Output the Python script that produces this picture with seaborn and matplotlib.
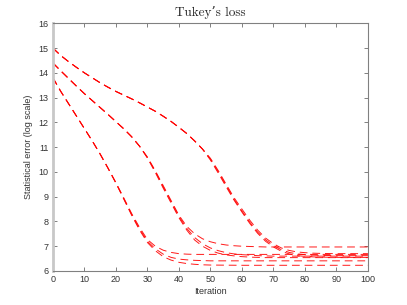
import pandas as pd
import matplotlib.pyplot as plt
import seaborn as sns

# ── data ─────────────────────────────────────────────────────
# each group of runs has its own iteration grid (dense where curves bend)
iters_a = [0, 2.5, 5, 7.5, 10, 12.5, 15, 17.5, 20, 22.5, 25, 27.5, 30, 32.5, 35, 37.5,
           40, 42.5, 45, 47.5, 50, 60, 70, 80, 90, 100]
iters_b = [0, 2.5, 5, 7.5, 10, 12.5, 15, 17.5, 20, 22.5, 25, 27.5, 30, 32.5, 35, 37.5,
           40, 42.5, 45, 47.5, 50, 52.5, 55, 57.5, 60, 62.5, 65, 67.5, 70, 80, 90, 100]
iters_c = [0, 2.5, 5, 7.5, 10, 12.5, 15, 17.5, 20, 22.5, 25, 27.5, 30, 32.5, 35, 37.5,
           40, 42.5, 45, 47.5, 50, 52.5, 55, 57.5, 60, 62.5, 65, 67.5, 70, 72.5, 75, 77.5,
           80, 82.5, 85, 90, 95, 100]

# fast group (starts near 13.8)
run_a1 = [13.8, 13.25, 12.75, 12.25, 11.75, 11.25, 10.72, 10.15, 9.55, 8.9, 8.25, 7.65, 7.15,
          6.82, 6.58, 6.44, 6.35, 6.3, 6.27, 6.25, 6.24, 6.23, 6.23, 6.23, 6.23, 6.23]
run_a2 = [13.8, 13.25, 12.75, 12.25, 11.75, 11.25, 10.72, 10.15, 9.55, 8.92, 8.28, 7.7, 7.2,
          6.9, 6.68, 6.55, 6.48, 6.45, 6.43, 6.42, 6.41, 6.41, 6.41, 6.41, 6.41, 6.41]
run_a3 = [13.8, 13.25, 12.75, 12.25, 11.75, 11.25, 10.72, 10.15, 9.57, 8.95, 8.32, 7.76, 7.27,
          7.0, 6.84, 6.75, 6.7, 6.68, 6.67, 6.67, 6.67, 6.67, 6.67, 6.67, 6.67, 6.67]

# middle group (starts near 14.4)
run_b1 = [14.4, 14.08, 13.77, 13.46, 13.16, 12.88, 12.6, 12.32, 12.03, 11.74, 11.42, 11.04, 10.6,
          10.05, 9.45, 8.85, 8.25, 7.8, 7.5, 7.3, 7.18, 7.1, 7.05, 7.02, 7.0, 6.99, 6.98, 6.97,
          6.97, 6.97, 6.97, 6.97]
run_b2 = [14.4, 14.08, 13.77, 13.46, 13.16, 12.88, 12.6, 12.32, 12.03, 11.74, 11.42, 11.04, 10.58,
          10.02, 9.4, 8.8, 8.2, 7.72, 7.35, 7.1, 6.93, 6.82, 6.74, 6.69, 6.66, 6.64, 6.62, 6.61,
          6.6, 6.6, 6.6, 6.6]
run_b3 = [14.4, 14.08, 13.77, 13.46, 13.16, 12.88, 12.6, 12.32, 12.03, 11.74, 11.42, 11.04, 10.56,
          9.98, 9.35, 8.75, 8.15, 7.65, 7.25, 7.0, 6.83, 6.72, 6.65, 6.61, 6.58, 6.56, 6.55, 6.54,
          6.54, 6.54, 6.54, 6.54]

# slow group (starts near 15)
run_c1 = [15.0, 14.7, 14.45, 14.22, 14.0, 13.8, 13.6, 13.42, 13.25, 13.1, 12.95, 12.79, 12.62,
          12.45, 12.25, 12.04, 11.8, 11.55, 11.25, 10.92, 10.55, 10.05, 9.5, 8.96, 8.5, 8.05,
          7.65, 7.33, 7.1, 6.93, 6.83, 6.77, 6.74, 6.72, 6.71, 6.7, 6.7, 6.7]
run_c2 = [15.0, 14.7, 14.45, 14.22, 14.0, 13.8, 13.6, 13.42, 13.25, 13.1, 12.95, 12.79, 12.62,
          12.45, 12.25, 12.04, 11.8, 11.55, 11.25, 10.92, 10.52, 10.0, 9.45, 8.9, 8.42, 7.97,
          7.57, 7.26, 7.03, 6.86, 6.75, 6.69, 6.66, 6.64, 6.63, 6.62, 6.62, 6.62]
run_c3 = [15.0, 14.7, 14.45, 14.22, 14.0, 13.8, 13.6, 13.42, 13.25, 13.1, 12.95, 12.79, 12.62,
          12.45, 12.25, 12.04, 11.8, 11.55, 11.25, 10.92, 10.48, 9.95, 9.4, 8.86, 8.38, 7.92,
          7.52, 7.2, 6.97, 6.8, 6.69, 6.62, 6.59, 6.57, 6.56, 6.55, 6.55, 6.55]

runs = [
    ("a1", iters_a, run_a1), ("a2", iters_a, run_a2), ("a3", iters_a, run_a3),
    ("b1", iters_b, run_b1), ("b2", iters_b, run_b2), ("b3", iters_b, run_b3),
    ("c1", iters_c, run_c1), ("c2", iters_c, run_c2), ("c3", iters_c, run_c3),
]

# long-form table for seaborn
rows = []
for name, its, values in runs:
    for it, err in zip(its, values):
        rows.append({"run": name, "iteration": it, "error": err})
df = pd.DataFrame(rows)

# ── style ────────────────────────────────────────────────────
sns.set_theme(style="white")
plt.rcParams["font.family"] = ["Liberation Sans", "DejaVu Sans"]

fig = plt.figure(figsize=(4.07, 3.05), dpi=100)
ax = fig.add_axes([0.130, 0.1115, 0.774, 0.812])

sns.lineplot(
    data=df, x="iteration", y="error", units="run", estimator=None,
    color="#ff0000", linestyle="--", linewidth=0.7, alpha=0.9, ax=ax,
)
for line in ax.lines:
    line.set_dashes((8, 5))

ax.set_xlim(0, 100)
ax.set_ylim(6, 16)
ax.set_xticks(range(0, 101, 10))
ax.set_yticks(range(6, 17, 1))

gray = "#808080"
for side in ["top", "right", "bottom"]:
    ax.spines[side].set_visible(True)
    ax.spines[side].set_color(gray)
    ax.spines[side].set_linewidth(0.8)
ax.spines["left"].set_color("#c8c8c8")
ax.spines["left"].set_linewidth(2.0)

ax.tick_params(axis="both", which="both", direction="in", length=3, width=0.7,
               color=gray, labelsize=6.5, labelcolor="#333333",
               top=True, right=True, bottom=True, left=True, pad=3)

ax.set_xlabel("Iteration", fontsize=6.5, color="#333333", labelpad=2)
ax.set_ylabel("Statistical error (log scale)", fontsize=6.5, color="#333333", labelpad=4)
ax.set_title("Tukey\u2019s loss", fontsize=9.5, family=["cmr10", "DejaVu Serif"], pad=5)

plt.savefig("out.png", dpi=100)
plt.close()
